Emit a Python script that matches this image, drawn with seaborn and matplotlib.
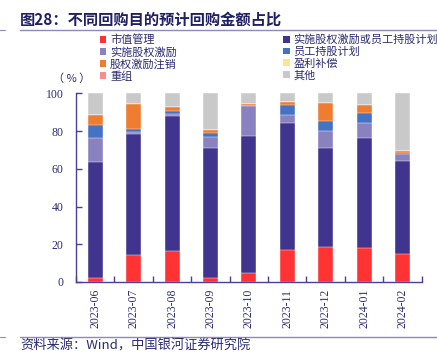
import numpy as np
import pandas as pd
import matplotlib
matplotlib.use("Agg")
import matplotlib.pyplot as plt
import seaborn as sns
from matplotlib.patches import Patch
from matplotlib.lines import Line2D

months = ["2023-06", "2023-07", "2023-08", "2023-09", "2023-10",
          "2023-11", "2023-12", "2024-01", "2024-02"]
series_names = ["市值管理", "实施股权激励或员工持股计划", "实施股权激励", "员工持股计划",
                "股权激励注销", "盈利补偿", "重组", "其他"]
shizhi = [2.3, 14.2, 16.3, 2.0, 5.0, 16.7, 18.3, 17.9, 14.7]
jili_or_chigu = [61.4, 64.4, 71.8, 68.8, 72.5, 67.7, 52.8, 58.5, 49.4]
jili = [12.4, 0.7, 1.1, 6.0, 15.7, 4.1, 8.7, 7.7, 3.7]
chigu = [7.2, 1.9, 1.6, 2.3, 0.3, 5.5, 5.7, 5.6, 0.7]
zhuxiao = [5.2, 13.1, 2.1, 1.4, 0.8, 1.5, 9.5, 4.3, 0.9]
yingli = [0, 0, 0, 0, 0, 0, 0, 0, 0]
chongzu = [0, 0, 0, 0, 0, 0, 0, 0, 0]
qita = [11.5, 5.7, 7.1, 19.5, 5.7, 4.5, 5.0, 6.0, 30.6]
yticks = [0, 20, 40, 60, 80, 100]

colors = ["#FF3333", "#40348F", "#8A82BE", "#4472C4", "#EE7D31", "#FFE38F", "#FF8C8C", "#C9C9C9"]
txt_color = "#2B2B72"
axis_color = "#4A3F99"

sns.set_theme(style="white")
plt.rcParams["font.family"] = ["Liberation Serif", "Noto Sans CJK SC", "DejaVu Sans"]
plt.rcParams["axes.unicode_minus"] = False
cjk = ["Noto Sans CJK SC", "DejaVu Sans"]

fig = plt.figure(figsize=(4.37, 3.59), dpi=100)
ax = fig.add_axes([76 / 437, 77 / 359, (421.7 - 76) / 437, (282 - 93.3) / 359])

values = [shizhi, jili_or_chigu, jili, chigu, zhuxiao, yingli, chongzu, qita]
cum = np.cumsum(np.array(values, dtype=float), axis=0)
df = pd.DataFrame({"month": months})
for i in range(len(values) - 1, -1, -1):
    df["v"] = cum[i]
    sns.barplot(data=df, x="month", y="v", color=colors[i], width=0.39,
                saturation=1, ax=ax, edgecolor="white", linewidth=0.3)

ax.set_xlim(-0.5, len(months) - 0.5)
ax.set_ylim(0, 100)
ax.set_yticks(yticks)
ax.set_xlabel("")
ax.set_ylabel("")
for s in ["top", "right"]:
    ax.spines[s].set_visible(False)
for s in ["left", "bottom"]:
    ax.spines[s].set_color(axis_color)
    ax.spines[s].set_linewidth(1.0)
ax.tick_params(axis="y", direction="in", length=4, width=1, color=axis_color,
               labelcolor=txt_color, labelsize=8.5, pad=9, left=True)
ax.tick_params(axis="x", which="major", length=0, labelcolor=txt_color,
               labelsize=8.5, pad=5, rotation=90)
ax.set_xticks(np.arange(-0.5, len(months), 1.0), minor=True)
ax.tick_params(axis="x", which="minor", direction="in", length=4, width=1,
               color=axis_color, bottom=True)

fig.text(72 / 437, 1 - 79 / 359, "（ % ）", fontsize=8, color=txt_color, family=cjk,
         ha="center", va="center")

handles = [Patch(facecolor=c, edgecolor="none") for c in colors]
order = [0, 2, 4, 6, 1, 3, 5, 7]
leg = fig.legend([handles[i] for i in order], [series_names[i] for i in order],
                 ncol=2, loc="upper left", bbox_to_anchor=(100 / 437, 1 - 34.5 / 359),
                 frameon=False, prop={"family": cjk, "size": 8},
                 handlelength=0.55, handleheight=0.55, handletextpad=0.35,
                 labelspacing=0.14, columnspacing=9.6, borderpad=0, borderaxespad=0)
for t in leg.get_texts():
    t.set_color(txt_color)

fig.text(20 / 437, 1 - 19.5 / 359, "图28：不同回购目的预计回购金额占比", fontsize=11,
         fontweight="bold", color="#1F1F66", family=cjk, va="center", ha="left")
fig.add_artist(Line2D([20 / 437, 1], [1 - 29.5 / 359] * 2, color="#8C89BE", lw=1))
fig.add_artist(Line2D([0, 5 / 437], [1 - 30 / 359] * 2, color="#8C89BE", lw=0.8))
fig.add_artist(Line2D([20 / 437, 1], [1 - 336.5 / 359] * 2, color="#8C89BE", lw=1))
fig.add_artist(Line2D([0, 5 / 437], [1 - 337 / 359] * 2, color="#8C89BE", lw=0.8))
fig.text(20 / 437, 1 - 346 / 359, "资料来源：Wind，中国银河证券研究院", fontsize=9.5,
         style="italic", color=txt_color, family=cjk, va="center", ha="left")

fig.savefig("out.png", dpi=100)
